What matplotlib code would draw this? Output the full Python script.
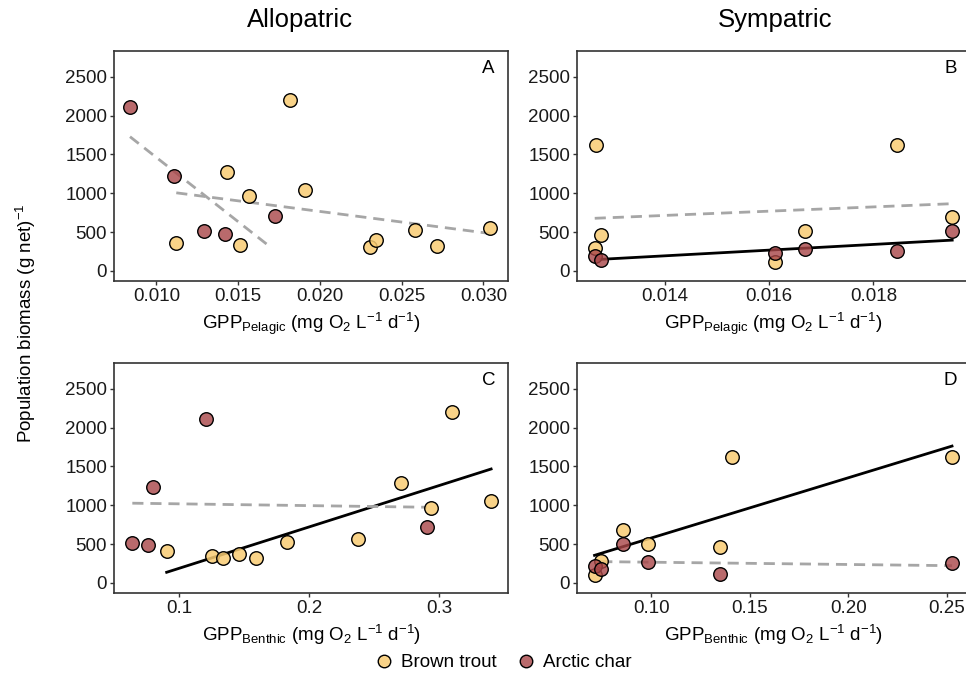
import numpy as np
import matplotlib

matplotlib.use('Agg')

import matplotlib.pyplot as plt
from matplotlib.lines import Line2D

plt.rcParams['font.family'] = ['Liberation Sans', 'DejaVu Sans']
plt.rcParams['mathtext.fontset'] = 'custom'
plt.rcParams['mathtext.rm'] = 'Liberation Sans'
plt.rcParams['mathtext.it'] = 'Liberation Sans:italic'

# --- data ---
# A: allopatric, pelagic GPP
a_trout_x = [0.01121, 0.01430, 0.01510, 0.01568, 0.01816, 0.01908, 0.02307, 0.02344, 0.02584, 0.02717, 0.03041]
a_trout_y = [361, 1276, 331, 958, 2195, 1040, 309, 400, 524, 314, 550]
a_char_x = [0.00838, 0.01109, 0.01289, 0.01422, 0.01723]
a_char_y = [2113, 1224, 507, 481, 709]

# B: sympatric, pelagic GPP
b_trout_x = [0.01269, 0.01278, 0.01266, 0.01611, 0.01668, 0.01846, 0.01951]
b_trout_y = [1614, 468, 294, 115, 507, 1623, 694]
b_char_x = [0.01266, 0.01278, 0.01611, 0.01668, 0.01846, 0.01951]
b_char_y = [187, 136, 230, 277, 260, 511]

# C: allopatric, benthic GPP
c_trout_x = [0.0905, 0.1251, 0.1336, 0.1459, 0.1590, 0.1828, 0.2374, 0.2705, 0.2937, 0.3100, 0.3400]
c_trout_y = [406, 342, 316, 376, 316, 530, 564, 1282, 966, 2197, 1053]
c_char_x = [0.0641, 0.0759, 0.0800, 0.1205, 0.2907]
c_char_y = [513, 491, 1231, 2115, 718]

# D: sympatric, benthic GPP
d_trout_x = [0.0713, 0.0747, 0.0857, 0.0983, 0.1351, 0.1408, 0.2525]
d_trout_y = [103, 282, 684, 500, 457, 1615, 1615]
d_char_x = [0.0713, 0.0747, 0.0857, 0.0983, 0.1351, 0.2525]
d_char_y = [214, 179, 504, 265, 120, 252]

# regression lines (end points), solid = significant
a_trout_fit = ([0.01121, 0.03041], [1005, 481], False)
a_char_fit = ([0.00838, 0.01690], [1727, 318], False)
b_trout_fit = ([0.01266, 0.01951], [677, 865], False)
b_char_fit = ([0.01278, 0.01951], [149, 396], True)
c_trout_fit = ([0.0905, 0.3400], [137, 1466], True)
c_char_fit = ([0.0641, 0.2907], [1026, 974], False)
d_trout_fit = ([0.0713, 0.2525], [355, 1761], True)
d_char_fit = ([0.0747, 0.2525], [274, 222], False)

trout_col = (0.976, 0.80, 0.45, 0.85)
char_col = (0.66, 0.27, 0.28, 0.8)

pel_label = r'GPP$_{\mathrm{Pelagic}}$ (mg O$_2$ L$^{\mathrm{-1}}$ d$^{\mathrm{-1}}$)'
ben_label = r'GPP$_{\mathrm{Benthic}}$ (mg O$_2$ L$^{\mathrm{-1}}$ d$^{\mathrm{-1}}$)'

fig = plt.figure(figsize=(9.66, 6.84), dpi=100)

panels = [
    ([0.1180, 0.5892, 0.4079, 0.3362], a_trout_x, a_trout_y, a_char_x, a_char_y,
     a_trout_fit, a_char_fit, (0.0074, 0.0315), [0.010, 0.015, 0.020, 0.025, 0.030], '%.3f', pel_label, 'A'),
    ([0.5973, 0.5892, 0.4068, 0.3362], b_trout_x, b_trout_y, b_char_x, b_char_y,
     b_trout_fit, b_char_fit, (0.01232, 0.01985), [0.014, 0.016, 0.018], '%.3f', pel_label, 'B'),
    ([0.1180, 0.1330, 0.4079, 0.3363], c_trout_x, c_trout_y, c_char_x, c_char_y,
     c_trout_fit, c_char_fit, (0.050, 0.353), [0.1, 0.2, 0.3], '%.1f', ben_label, 'C'),
    ([0.5973, 0.1330, 0.4068, 0.3363], d_trout_x, d_trout_y, d_char_x, d_char_y,
     d_trout_fit, d_char_fit, (0.0624, 0.2616), [0.10, 0.15, 0.20, 0.25], '%.2f', ben_label, 'D'),
]

for pos, tx, ty, cx, cy, tfit, cfit, xlim, xticks, fmt, xlab, letter in panels:
    ax = fig.add_axes(pos)
    for fx, fy, sig in (tfit, cfit):
        if sig:
            ax.plot(fx, fy, color='black', lw=2, zorder=2)
        else:
            ax.plot(fx, fy, color='#a6a6a6', lw=2, ls=(0, (4, 2.5)), zorder=2)
    ax.scatter(tx, ty, s=95, c=[trout_col], edgecolors='black', linewidths=1, zorder=3)
    ax.scatter(cx, cy, s=95, c=[char_col], edgecolors='black', linewidths=1, zorder=3)
    ax.set_xlim(xlim)
    ax.set_ylim(-130, 2830)
    ax.set_xticks(xticks)
    ax.set_xticklabels([fmt % v for v in xticks])
    ax.set_yticks([0, 500, 1000, 1500, 2000, 2500])
    ax.tick_params(labelsize=13.5, length=3, width=1, colors='#333333', labelcolor='#1a1a1a', pad=2)
    for sp in ax.spines.values():
        sp.set_color('#333333')
        sp.set_linewidth(1.2)
    ax.set_xlabel(xlab, fontsize=13.5, labelpad=4)
    ax.text(0.95, 0.925, letter, transform=ax.transAxes, fontsize=13.5, ha='center', va='center')

fig.text(0.311, 0.971, 'Allopatric', fontsize=18.5, ha='center', va='center')
fig.text(0.802, 0.971, 'Sympatric', fontsize=18.5, ha='center', va='center')
fig.text(0.027, 0.528, 'Population biomass (g net)$^{\\mathrm{-1}}$', fontsize=13.5,
         rotation=90, ha='center', va='center')

handles = [
    Line2D([], [], ls='none', marker='o', ms=9, mfc=trout_col, mec='black', mew=1, label='Brown trout'),
    Line2D([], [], ls='none', marker='o', ms=9, mfc=char_col, mec='black', mew=1, label='Arctic char'),
]
fig.legend(handles=handles, loc='center', bbox_to_anchor=(0.52, 0.031), ncol=2, frameon=False,
           fontsize=13.5, handletextpad=0.3, columnspacing=1.0, handlelength=1.2)

fig.savefig('out.png', dpi=100)
